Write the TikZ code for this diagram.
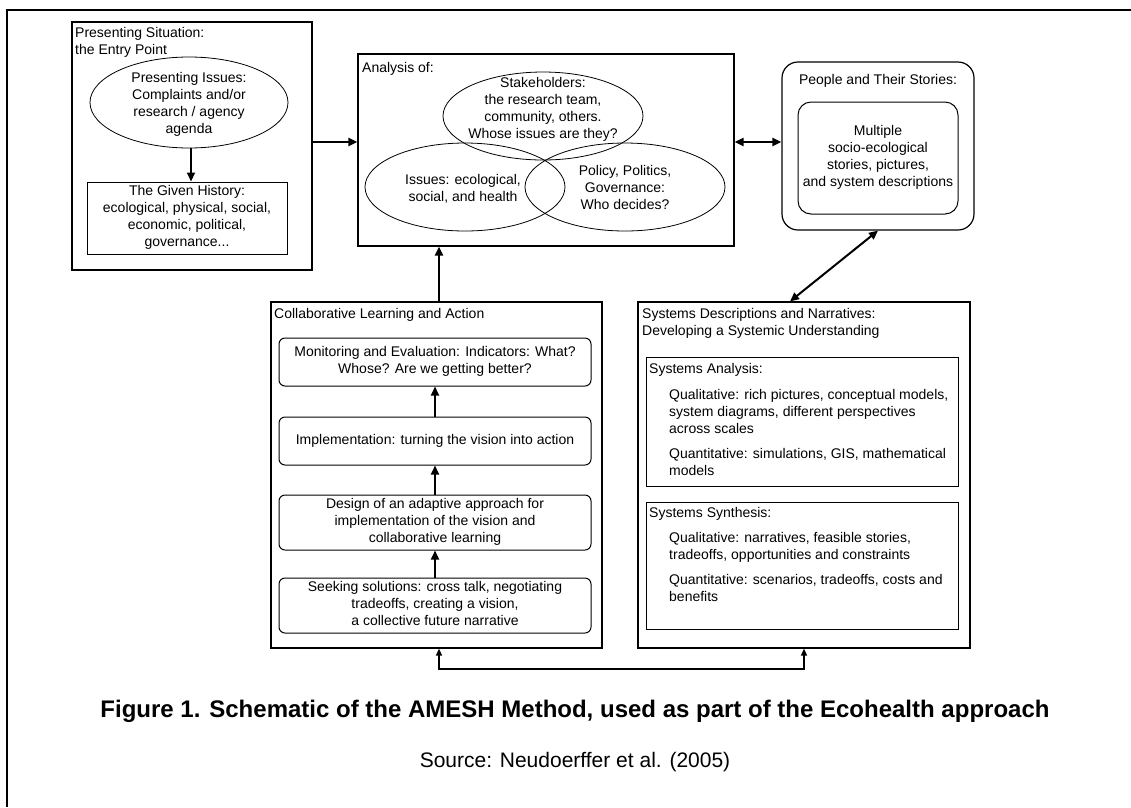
\documentclass[tikz,border=0pt]{standalone}
\usepackage{fontspec}
\setmainfont{Liberation Sans}
\usetikzlibrary{shapes.geometric,arrows.meta}
\tikzstyle{txt} = [font=\fontsize{14}{17}\selectfont, inner sep=0pt]
\tikzstyle{title} = [txt, anchor=base west]
\tikzstyle{block} = [txt, rectangle, draw, line width=1pt]
\tikzstyle{panel} = [block, line width=1.2pt]
\tikzstyle{stage} = [block, rounded corners=6pt, minimum width=312pt]
\tikzstyle{oval} = [ellipse, draw, line width=0.8pt, minimum width=200pt, minimum height=88pt, inner sep=0pt]
\tikzstyle{arrow} = [line width=2pt, -{Triangle[length=9pt,width=8pt]}]
\tikzstyle{twoway} = [line width=2pt, {Triangle[length=9pt,width=8pt]}-{Triangle[length=9pt,width=8pt]}]
\tikzstyle{feedback} = [line width=1.4pt, {Triangle[length=7pt,width=6pt]}-{Triangle[length=7pt,width=6pt]}]

\begin{document}
\begin{tikzpicture}[x = 1pt, y = -1pt]

\useasboundingbox (0,0) rectangle (1131,807);

% ----------------------------------------------------
% frame
\draw[line width=2.5pt] (7,807) -- (7,10) -- (1131,10);

\coordinate (midrow) at (0,142);
\coordinate (loop) at (0,669);

% ----------------------------------------------------
% presenting situation

  \node (situation) [panel, minimum width=240pt, minimum height=248pt] at (192,146) {};
  \node (situation-title) [title] at (75,37) {
  \begin{tabular}[t]{@{}l@{}}
    Presenting Situation: \\
    the Entry Point
  \end{tabular}
  };
  \node (issues) [oval, minimum width=198pt, minimum height=91pt] at (189,102.5) {};
  \node (issues-text) [txt] at (189,105) {
  \begin{tabular}{@{}c@{}}
    Presenting Issues: \\
    Complaints and/or \\
    research / agency \\
    agenda
  \end{tabular}
  };
  \node (history) [block, minimum width=200pt, minimum height=72pt] at (187,218) {
  \begin{tabular}{@{}c@{}}
    The Given History: \\
    ecological, physical, social, \\
    economic, political, \\
    governance...
  \end{tabular}
  };

  \draw[arrow] ([xshift=2pt]issues.south) -- ([xshift=2pt]issues.south |- history.north);

% ----------------------------------------------------
% analysis

  \node (analysis) [panel, minimum width=376pt, minimum height=192pt] at (546,150) {};
  \node (analysis-title) [title] at (362,72) {Analysis of:};
  \node (stakeholders) [oval] at (543,116) {};
  \node (concerns) [oval] at (465,187) {};
  \node (policy) [oval] at (625,187) {};
  \node (stakeholders-text) [txt] at (543,110) {
  \begin{tabular}{@{}c@{}}
    Stakeholders: \\
    the research team, \\
    community, others. \\
    Whose issues are they?
  \end{tabular}
  };
  \node (concerns-text) [txt] at (463,190) {
  \begin{tabular}{@{}c@{}}
    Issues: ecological, \\
    social, and health
  \end{tabular}
  };
  \node (policy-text) [txt] at (625,189) {
  \begin{tabular}{@{}c@{}}
    Policy, Politics, \\
    Governance: \\
    Who decides?
  \end{tabular}
  };

% ----------------------------------------------------
% people

  \node (people) [panel, rounded corners=16pt, minimum width=192pt, minimum height=168pt] at (878,146) {};
  \node (people-title) [txt, anchor=base] at (878,84) {People and Their Stories:};
  \node (stories) [block, rounded corners=13pt, minimum width=160pt, minimum height=112pt] at (878,158) {
  \begin{tabular}{@{}c@{}}
    Multiple \\
    socio-ecological \\
    stories, pictures, \\
    and system descriptions
  \end{tabular}
  };

% ----------------------------------------------------
% collaborative learning

  \node (collab) [panel, minimum width=331pt, minimum height=346pt] at (436.5,475) {};
  \node (collab-title) [title] at (274,318) {Collaborative Learning and Action};
  \node (monitor) [stage, minimum height=48pt] at (435,362) {
  \begin{tabular}{@{}c@{}}
    Monitoring and Evaluation: Indicators: What? \\
    Whose? Are we getting better?
  \end{tabular}
  };
  \node (implement) [stage, minimum height=48pt] at (435,441) {Implementation: turning the vision into action};
  \node (design) [stage, minimum height=55pt] at (435,522.5) {
  \begin{tabular}{@{}c@{}}
    Design of an adaptive approach for \\
    implementation of the vision and \\
    collaborative learning
  \end{tabular}
  };
  \node (seeking) [stage, minimum height=55pt] at (435,605.5) {
  \begin{tabular}{@{}c@{}}
    Seeking solutions: cross talk, negotiating \\
    tradeoffs, creating a vision, \\
    a collective future narrative
  \end{tabular}
  };

  \draw[arrow] (seeking.north) -- (design.south);
  \draw[arrow] (design.north) -- (implement.south);
  \draw[arrow] (implement.north) -- (monitor.south);

% ----------------------------------------------------
% systems descriptions

  \node (systems) [panel, minimum width=332pt, minimum height=346pt] at (804,475) {};
  \node (systems-title) [title] at (642,318) {
  \begin{tabular}[t]{@{}l@{}}
    Systems Descriptions and Narratives: \\
    Developing a Systemic Understanding
  \end{tabular}
  };
  \node (sysanalysis) [block, minimum width=312pt, minimum height=129pt] at (802,421.5) {};
  \node (sysanalysis-title) [title] at (649,373) {Systems Analysis:};
  \node (sysanalysis-items) [title] at (669,399) {
  \begin{tabular}[t]{@{}l@{}}
    Qualitative: rich pictures, conceptual models, \\
    system diagrams, different perspectives \\
    across scales \\[8pt]
    Quantitative: simulations, GIS, mathematical \\
    models
  \end{tabular}
  };
  \node (synthesis) [block, minimum width=312pt, minimum height=127pt] at (802,565.5) {};
  \node (synthesis-title) [title] at (649,517) {Systems Synthesis:};
  \node (synthesis-items) [title] at (669,542) {
  \begin{tabular}[t]{@{}l@{}}
    Qualitative: narratives, feasible stories, \\
    tradeoffs, opportunities and constraints \\[8pt]
    Quantitative: scenarios, tradeoffs, costs and \\
    benefits
  \end{tabular}
  };

% ----------------------------------------------------
% connectors

  \draw[arrow] (situation.east |- midrow) -- (analysis.west |- midrow);
  \draw[twoway] (analysis.east |- midrow) -- (people.west |- midrow);
  \draw[twoway] (people.south) -- ([xshift=-14pt]systems.north);
  \draw[arrow] ([xshift=2.5pt]collab.north) -- ([xshift=2.5pt]collab.north |- analysis.south);
  \draw[feedback] ([xshift=2.5pt]collab.south) -- ([xshift=2.5pt]collab.south |- loop)
    -- (systems.south |- loop) -- (systems.south);

% caption
\node (caption) [font=\fontsize{24}{28}\selectfont\bfseries, anchor=base] at (575,717)
  {Figure 1. Schematic of the AMESH Method, used as part of the Ecohealth approach};
\node (source) [font=\fontsize{21}{25}\selectfont, anchor=base] at (575,767)
  {Source: Neudoerffer et al. (2005)};

\end{tikzpicture}
\end{document}
